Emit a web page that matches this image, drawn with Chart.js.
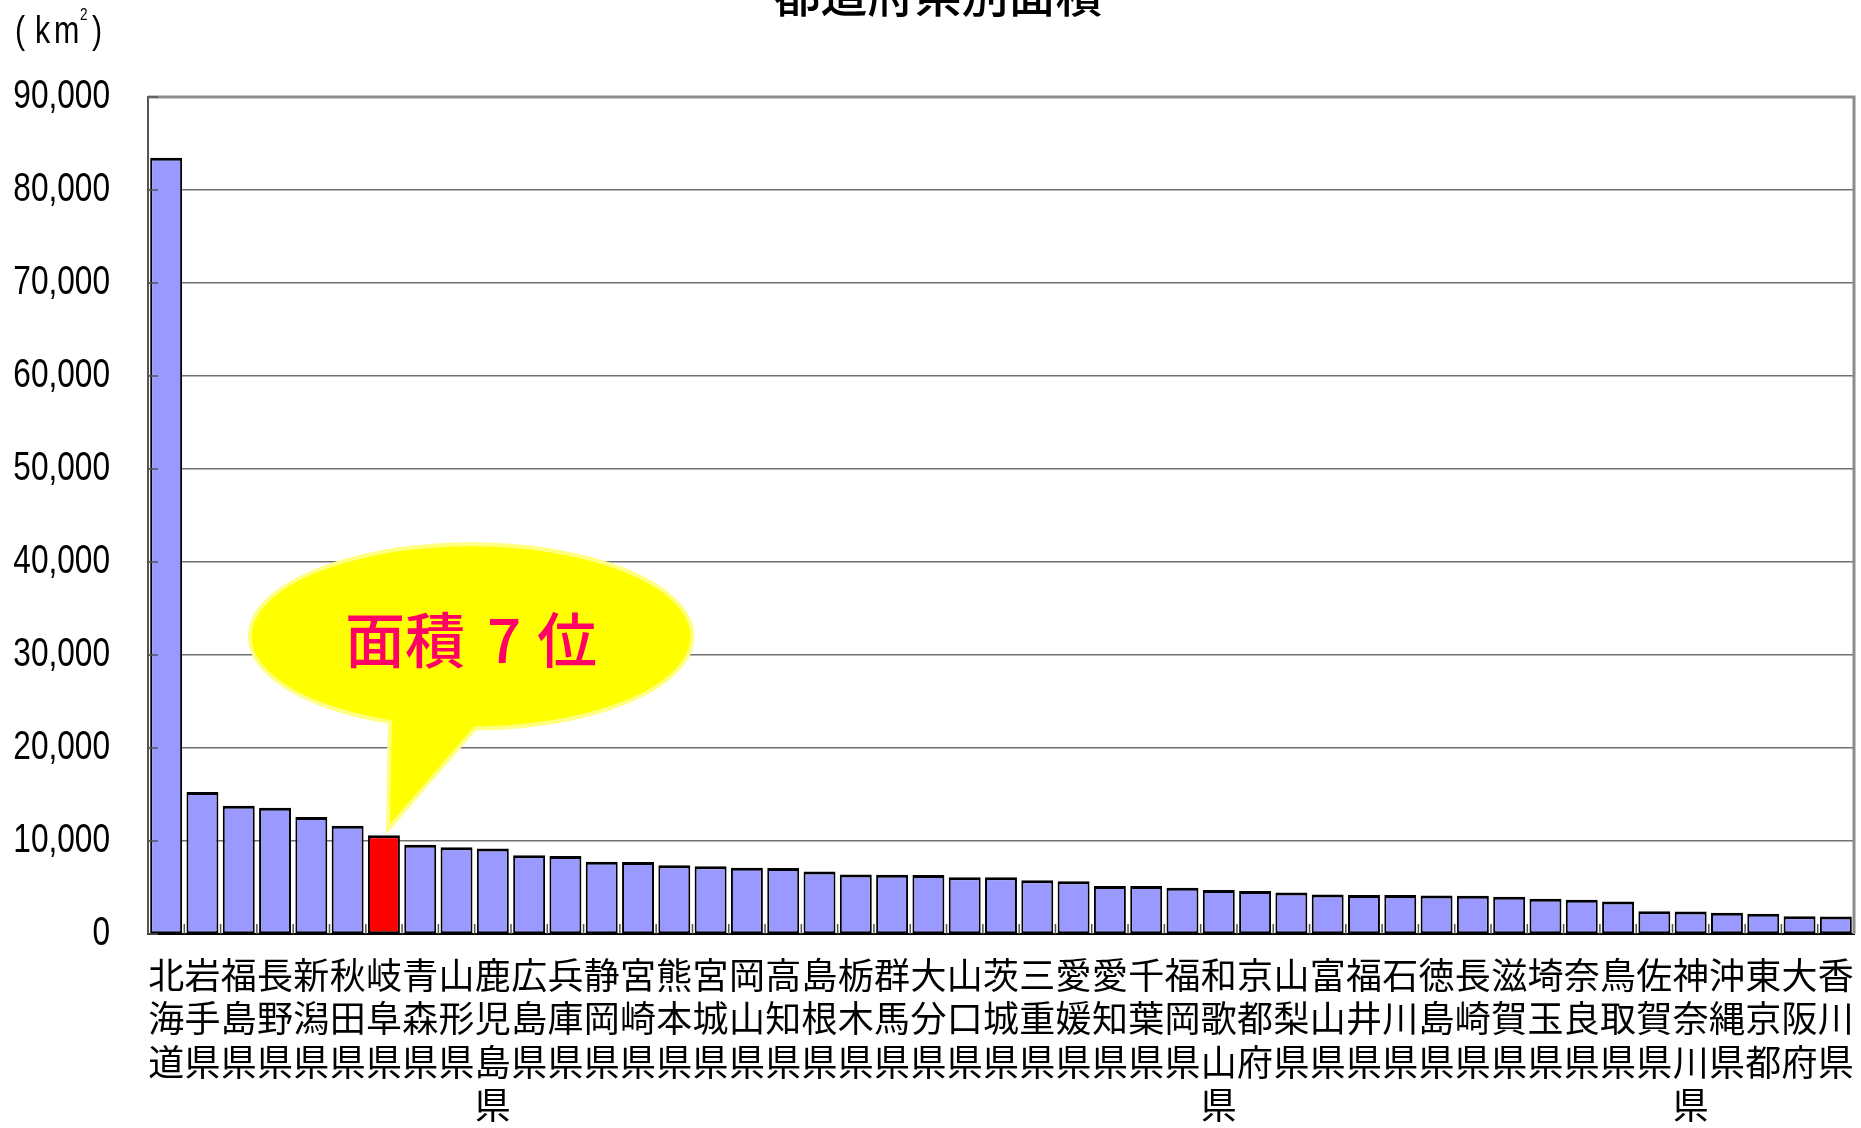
<!DOCTYPE html>
<html lang="ja">
<head>
<meta charset="utf-8">
<title>都道府県別面積</title>
<script src="https://cdn.jsdelivr.net/npm/chart.js@4.4.0/dist/chart.umd.min.js"></script>
<style>
  html, body { margin: 0; padding: 0; background: #fff; }
  #areaChart { display: block; }
</style>
</head>
<body>
<canvas id="areaChart" width="1861" height="1128"></canvas>
<script>
// ========== 1. Data ==========
const prefectures = [
  '北海道', '岩手県', '福島県', '長野県', '新潟県', '秋田県', '岐阜県', '青森県',
  '山形県', '鹿児島県', '広島県', '兵庫県', '静岡県', '宮崎県', '熊本県', '宮城県',
  '岡山県', '高知県', '島根県', '栃木県', '群馬県', '大分県', '山口県', '茨城県',
  '三重県', '愛媛県', '愛知県', '千葉県', '福岡県', '和歌山県', '京都府', '山梨県',
  '富山県', '福井県', '石川県', '徳島県', '長崎県', '滋賀県', '埼玉県', '奈良県',
  '鳥取県', '佐賀県', '神奈川県', '沖縄県', '東京都', '大阪府', '香川県'
];
const areas = [
  83456, 15279, 13783, 13562, 12584, 11636, 10621, 9607,
  9323, 9188, 8479, 8396, 7780, 7735, 7405, 7285,
  7113, 7105, 6707, 6408, 6363, 6339, 6112, 6096,
  5777, 5678, 5165, 5157, 4977, 4726, 4613, 4465,
  4247, 4189, 4186, 4147, 4105, 4017, 3798, 3691,
  3507, 2440, 2416, 2276, 2187, 1898, 1876
];
const yTicks = [0, 10000, 20000, 30000, 40000, 50000, 60000, 70000, 80000, 90000];
const highlight = '岐阜県';
const calloutText = ['面積', '7', '位'];

const barColors = prefectures.map(p => p === highlight ? '#FF0000' : '#9999FF');

// squeezed text, the original uses a narrow font
function narrowText(ctx, text, x, y, sx) {
  ctx.save();
  ctx.translate(x, y);
  ctx.scale(sx, 1);
  ctx.fillText(text, 0, 0);
  ctx.restore();
}

// ========== 2. Extra drawing (title, unit, ticks, box, callout) ==========
const extras = {
  id: 'extras',
  afterDraw(chart) {
    const ctx = chart.ctx;
    const area = chart.chartArea;
    const x = chart.scales.x;
    const y = chart.scales.y;

    // title (runs off the top of the image)
    ctx.save();
    ctx.fillStyle = '#000';
    ctx.font = '500 47px "Noto Sans CJK JP"';
    ctx.textAlign = 'center';
    ctx.textBaseline = 'middle';
    ctx.fillText('都道府県別面積', 938, -6);

    // y tick labels
    ctx.font = '40px "Liberation Sans"';
    ctx.textAlign = 'right';
    ctx.textBaseline = 'middle';
    yTicks.forEach(v => {
      narrowText(ctx, v.toLocaleString('en-US'), area.left - 38, y.getPixelForValue(v), 0.79);
    });

    // unit
    ctx.textAlign = 'left';
    ctx.textBaseline = 'alphabetic';
    ctx.font = '38px "Liberation Sans"';
    narrowText(ctx, '(', 15, 43, 0.8);
    narrowText(ctx, 'k', 35, 43, 0.8);
    narrowText(ctx, 'm', 54, 43, 0.8);
    narrowText(ctx, ')', 92, 43, 0.8);
    ctx.font = '17px "Liberation Sans"';
    narrowText(ctx, '2', 80, 20, 0.8);

    // plot box top and right
    ctx.strokeStyle = '#8c8c8c';
    ctx.lineWidth = 3;
    ctx.beginPath();
    ctx.moveTo(area.left, area.top);
    ctx.lineTo(area.right, area.top);
    ctx.lineTo(area.right, area.bottom);
    ctx.stroke();

    // small inward ticks
    ctx.strokeStyle = '#555';
    ctx.lineWidth = 1.5;
    ctx.beginPath();
    yTicks.forEach(v => {
      const py = y.getPixelForValue(v);
      ctx.moveTo(area.left, py);
      ctx.lineTo(area.left + 10, py);
    });
    for (let i = 1; i < prefectures.length; i++) {
      const px = x.getPixelForValue(i - 0.5);
      ctx.moveTo(px, area.bottom);
      ctx.lineTo(px, area.bottom - 10);
    }
    ctx.stroke();

    // callout pointing at the highlighted bar
    const bar = chart.getDatasetMeta(0).data[prefectures.indexOf(highlight)];
    const cx = x.getPixelForValue(8.4);
    const cy = y.getPixelForValue(32000);
    const rx = x.getPixelForValue(6.1) - x.getPixelForValue(0);
    const ry = y.getPixelForValue(0) - y.getPixelForValue(9900);
    const tA = 1.946, tB = 1.553;
    ctx.beginPath();
    ctx.ellipse(cx, cy, rx, ry, 0, tA, tB);
    ctx.lineTo(bar.x + 4, bar.y - 6);
    ctx.closePath();
    ctx.fillStyle = '#FFFF00';
    ctx.fill();
    ctx.strokeStyle = '#FFFF80';
    ctx.lineWidth = 4;
    ctx.stroke();

    ctx.fillStyle = '#FF0066';
    ctx.font = '500 60px "Noto Sans CJK JP"';
    ctx.textBaseline = 'middle';
    ctx.textAlign = 'left';
    ctx.fillText(calloutText[0], cx - 126, cy + 4);
    ctx.fillText(calloutText[1], cx + 16, cy + 4);
    ctx.fillText(calloutText[2], cx + 66, cy + 4);
    ctx.restore();
  }
};

// ========== 3. Chart ==========
const ctx = document.getElementById('areaChart').getContext('2d');
const areaChart = new Chart(ctx, {
  type: 'bar',
  data: {
    labels: prefectures.map(p => p.split('')),
    datasets: [{
      label: '面積',
      data: areas,
      backgroundColor: barColors,
      borderColor: '#000',
      borderWidth: { top: 3, left: 2, right: 2, bottom: 2 },
      borderSkipped: false,
      categoryPercentage: 0.88,
      barPercentage: 1
    }]
  },
  options: {
    responsive: false,
    animation: false,
    layout: { padding: { top: 97, right: 7, left: 0, bottom: 0 } },
    plugins: {
      legend: { display: false },
      title: { display: false },
      tooltip: { enabled: false }
    },
    scales: {
      x: {
        grid: { display: false, drawTicks: false },
        border: { display: true, color: '#000', width: 2 },
        ticks: {
          autoSkip: false,
          maxRotation: 0,
          minRotation: 0,
          padding: 20,
          color: '#000',
          font: { family: '"Noto Sans CJK JP"', size: 36, lineHeight: 1.2 }
        },
        afterFit(scale) {
          scale.height = 194;
          scale.paddingLeft = 0;
          scale.paddingRight = 0;
        }
      },
      y: {
        min: 0,
        max: 90000,
        afterBuildTicks(scale) { scale.ticks = yTicks.map(v => ({ value: v })); },
        grid: { color: '#707070', lineWidth: 1.5, drawTicks: false },
        border: { display: true, color: '#555', width: 2 },
        ticks: { display: false },
        afterFit(scale) { scale.width = 148; }
      }
    }
  },
  plugins: [extras]
});
</script>
</body>
</html>
